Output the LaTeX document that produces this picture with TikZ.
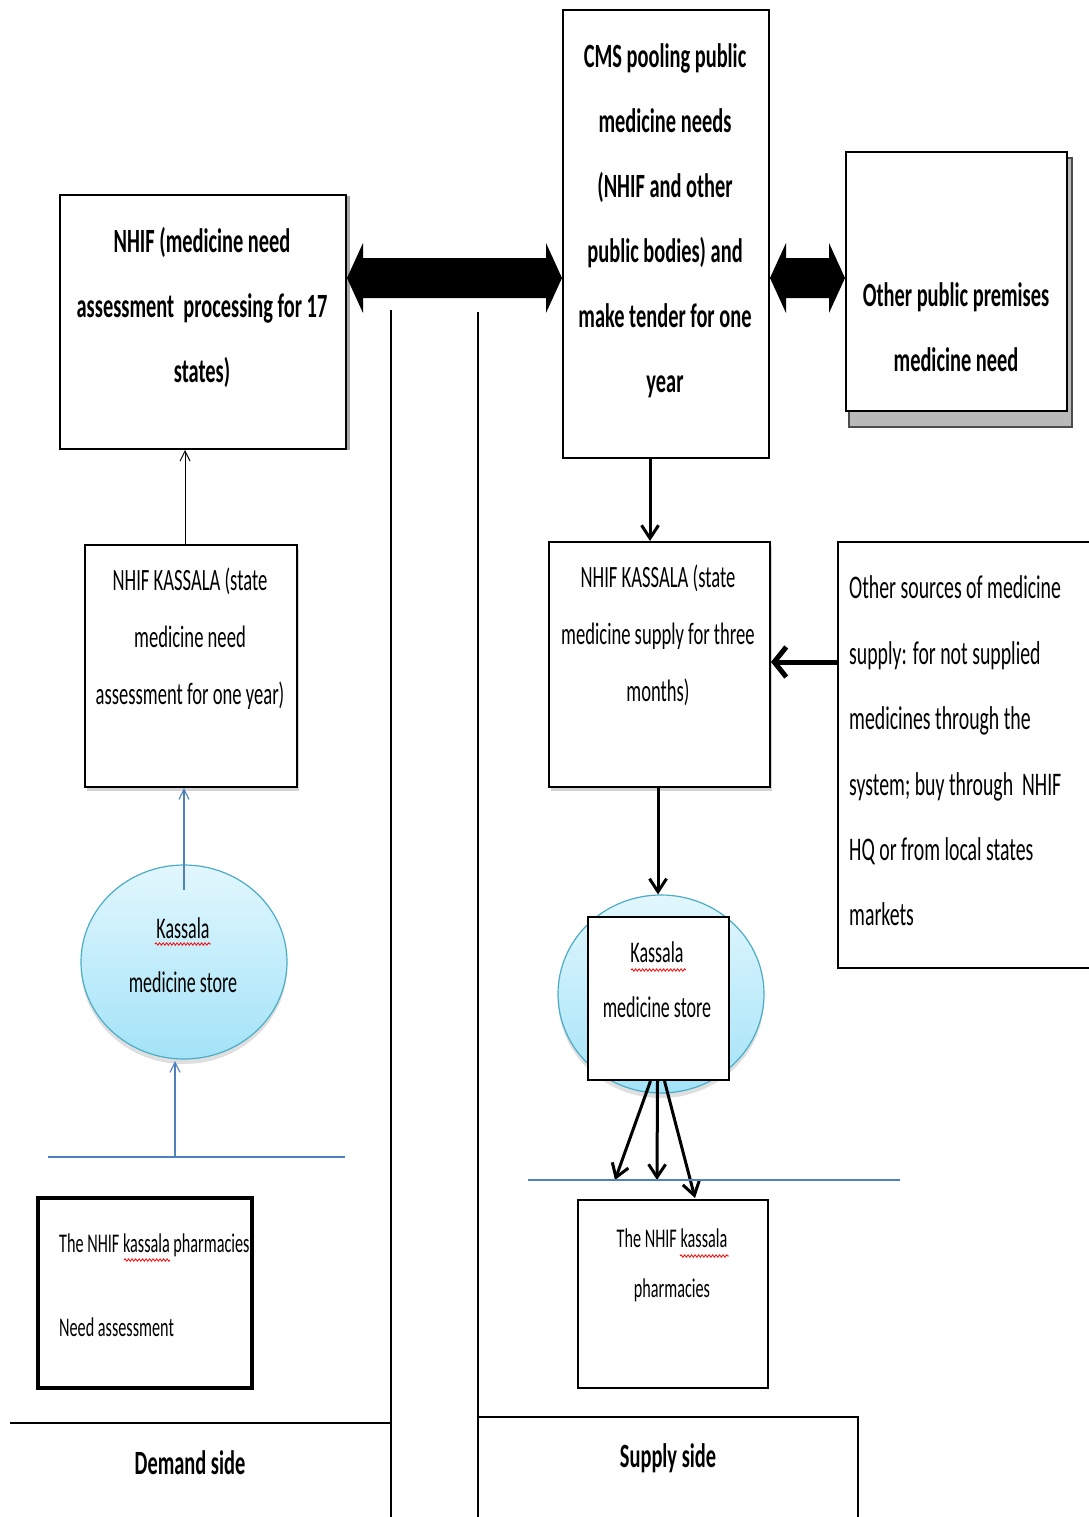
\documentclass[tikz,border=0pt]{standalone}
\usepackage{fontspec}
\setmainfont{Carlito}[FakeStretch=0.6]
\usetikzlibrary{arrows.meta,shadows,shapes.geometric,decorations.pathmorphing,calc}
\definecolor{blueline}{HTML}{4F81BD}
\definecolor{elltop}{HTML}{E2F7FD}
\definecolor{ellbot}{HTML}{A3E3F8}
\definecolor{ellbord}{HTML}{4BACC6}
\tikzset{
  box/.style={draw=black, line width=2pt, fill=white, inner sep=0pt, rectangle},
  boldtxt/.style={font=\bfseries\fontsize{34}{65}\selectfont, align=center, inner sep=0pt},
  regtxt/.style={font=\fontsize{31}{57}\selectfont, align=center, inner sep=0pt},
  ellnode/.style={ellipse, draw=ellbord, line width=1.2pt, top color=elltop, bottom color=ellbot,
     drop shadow={shadow xshift=0pt, shadow yshift=-5pt, opacity=0.25}},
  thinarrow/.style={line width=1pt, -{Straight Barb[length=10pt,width=10pt]}},
  bluearrow/.style={blueline, line width=1.2pt, -{Straight Barb[length=10pt,width=10pt]}},
  blackarrow/.style={line width=3pt, -{Straight Barb[length=13pt,width=17pt]}},
  squig/.style={red, line width=0.8pt, decorate, decoration={snake, amplitude=1.2pt, segment length=3.5pt}},
  sideline/.style={line width=2.5pt}
}
\begin{document}
\begin{tikzpicture}[x=1pt,y=-1pt]
\useasboundingbox (0,0) rectangle (1088,1517);

% ---------- top boxes ----------
\node[box, minimum width=286pt, minimum height=254pt,
      drop shadow={shadow xshift=4pt, shadow yshift=-1pt, fill=gray!70, opacity=1}] (nhif) at (203,322) {};
\node[boldtxt] (nhift) at (202,307) {NHIF (medicine need\\assessment~ processing for 17\\states)};

\node[box, minimum width=206pt, minimum height=448pt] (cms) at (666,234) {};
\node[boldtxt] (cmst) at (665,221) {CMS pooling public\\medicine needs\\(NHIF and other\\public bodies) and\\make tender for one\\year};

\node[rectangle, draw=gray!60!black, line width=1.5pt, fill=gray!55, minimum width=223pt, minimum height=269pt] (opsh) at (960.5,292.5) {};
\node[box, minimum width=221pt, minimum height=259pt] (op) at (956.5,281.5) {};
\node[boldtxt] (opt) at (956,327) {Other public premises\\medicine need};

% ---------- big double arrows ----------
\fill[black] (nhif.east |- 0,278) -- ++(16,-35) -- ++(0,15)
  -- ($(cms.west |- 0,258)+(-16,0)$) -- ++(0,-15) -- (cms.west |- 0,278)
  -- ++(-16,35) -- ++(0,-15) -- ($(nhif.east |- 0,298)+(16,0)$) -- ++(0,15) -- cycle;
\fill[black] (cms.east |- 0,278) -- ++(16,-35) -- ++(0,15)
  -- ($(op.west |- 0,258)+(-16,0)$) -- ++(0,-15) -- (op.west |- 0,278)
  -- ++(-16,35) -- ++(0,-15) -- ($(cms.east |- 0,298)+(16,0)$) -- ++(0,15) -- cycle;

% ---------- side division lines ----------
\coordinate (v1t) at (391,310);
\coordinate (v1b) at (391,1520);
\coordinate (v2t) at (478,312);
\coordinate (v2b) at (478,1520);
\draw[sideline] (v1t) -- (v1b);
\draw[sideline] (v2t) -- (v2b);
\coordinate (dl) at (10,1423);
\draw[sideline] (dl) -- (dl -| v1t);
\node[rectangle, draw=black, line width=2pt, minimum width=380pt, minimum height=115pt] (sup) at (668,1474.5) {};
\node[font=\bfseries\fontsize{34}{40}\selectfont, inner sep=0pt] (dem) at (190,1463) {Demand side};
\node[font=\bfseries\fontsize{34}{40}\selectfont, inner sep=0pt] (supt) at (668,1458) {Supply side};

% ---------- demand side ----------
\node[box, minimum width=212pt, minimum height=242pt,
      drop shadow={shadow xshift=2pt, shadow yshift=-4pt, opacity=0.35}] (kl) at (191,666) {};
\node[regtxt] (klt) at (190,639) {NHIF KASSALA (state\\medicine need\\assessment for one year)};
\draw[thinarrow] ([xshift=-6pt]kl.north) -- ([xshift=-6pt]kl.north |- nhif.south);

\node[ellnode, minimum width=206pt, minimum height=194pt] (ell1) at (184,962) {};
\node[font=\fontsize{30}{54}\selectfont, align=center, inner sep=0pt] (ell1t) at (183,955) {Kassala\\medicine store};
\draw[squig] (155,944) -- (211,944);
\coordinate (b1s) at (184,890);
\draw[bluearrow] (b1s) -- (b1s |- kl.south);

\coordinate (bl1a) at (48,1157);
\coordinate (bl1b) at (345,1157);
\draw[blueline, line width=1.5pt] (bl1a) -- (bl1b);
\coordinate (b2s) at (175,1157);
\draw[bluearrow] (b2s) -- (175,1061);

\node[box, line width=4pt, minimum width=214pt, minimum height=190pt] (pl) at (145,1293) {};
\node[font=\fontsize{27}{84}\selectfont, align=left, inner sep=0pt, anchor=west] (plt) at (59,1285) {The NHIF kassala pharmacies\\Need assessment};
\draw[squig] (124,1260) -- (170,1260);

% ---------- supply side ----------
\node[box, minimum width=221pt, minimum height=245pt,
      drop shadow={shadow xshift=2pt, shadow yshift=-4pt, opacity=0.35}] (kr) at (659.5,664.5) {};
\node[regtxt] (krt) at (658,635) {NHIF KASSALA (state\\medicine supply for three\\months)};
\draw[blackarrow] ([xshift=-16pt]cms.south) -- ([xshift=-16pt]cms.south |- kr.north);

\node[box, line width=1.5pt, minimum width=262pt, minimum height=426pt] (os) at (969,755) {};
\node[font=\fontsize{33}{65.4}\selectfont, align=left, inner sep=0pt, anchor=west] (ost) at (849,751)
  {Other sources of medicine\\supply: for not supplied\\medicines through the\\system; buy through~ NHIF\\HQ or from local states\\markets};
\draw[line width=5pt, -{Straight Barb[length=12pt,width=30pt]}] (os.west |- 0,662) -- (kr.east |- 0,662);

\node[ellnode, minimum width=206pt, minimum height=198pt] (ell2) at (661,994) {};
\draw[blackarrow] ([xshift=-1.5pt]kr.south) -- ([xshift=-1.5pt]kr.south |- ell2.north);
\node[box, minimum width=141pt, minimum height=163pt] (rr) at (658.5,998.5) {};
\node[font=\fontsize{30}{55}\selectfont, align=center, inner sep=0pt] (rrt) at (657,980) {Kassala\\medicine store};
\draw[squig] (631,970) -- (686,970);

\coordinate (a1e) at (615,1180);
\coordinate (a2e) at (657,1180);
\coordinate (a3e) at (695,1198);
\draw[blackarrow] ([xshift=-8pt]rr.south) -- (a1e);
\draw[blackarrow] ([xshift=-1pt]rr.south) -- (a2e);
\draw[blackarrow] ([xshift=6pt]rr.south) -- (a3e);

\coordinate (bl2a) at (528,1180);
\coordinate (bl2b) at (900,1180);
\draw[blueline, line width=1.5pt] (bl2a) -- (bl2b);

\node[box, line width=1.2pt, minimum width=190pt, minimum height=188pt] (pr) at (673,1294) {};
\node[font=\fontsize{27}{50}\selectfont, align=center, inner sep=0pt] (prt) at (672,1265) {The NHIF kassala\\pharmacies};
\draw[squig] (680,1256) -- (729,1256);
\end{tikzpicture}
\end{document}
